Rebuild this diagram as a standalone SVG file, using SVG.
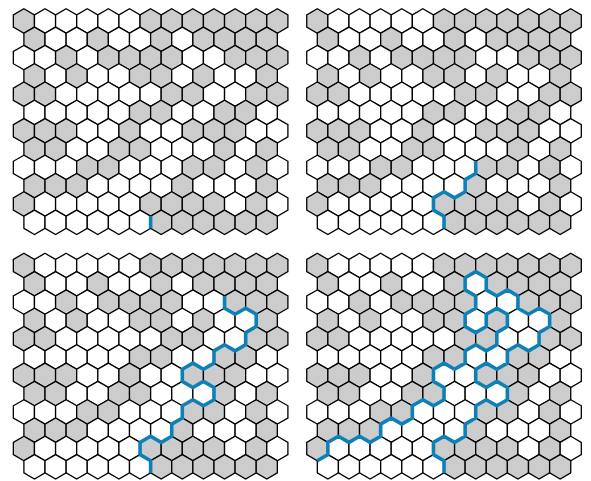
<svg xmlns="http://www.w3.org/2000/svg" xmlns:xlink="http://www.w3.org/1999/xlink" width="591" height="481" viewBox="0 0 591 481">
<style>
.grid use{fill:#fff;stroke:#000;stroke-width:1.3;stroke-linejoin:miter}
.grid use.g{fill:#cccccc}
.path{fill:none;stroke:#0f80b6;stroke-width:3.6;stroke-linejoin:round;stroke-linecap:butt}
</style>
<defs>
<path id="h" d="M0,-12.2L10.56,-6.1L10.56,6.1L0,12.2L-10.56,6.1L-10.56,-6.1Z"/>
<g id="grid" class="grid">
<use href="#h" x="23.90" y="21" class="g"/><use href="#h" x="45.02" y="21"/><use href="#h" x="66.14" y="21"/><use href="#h" x="87.26" y="21"/><use href="#h" x="108.38" y="21"/><use href="#h" x="129.50" y="21"/><use href="#h" x="150.62" y="21" class="g"/><use href="#h" x="171.74" y="21" class="g"/><use href="#h" x="192.86" y="21" class="g"/><use href="#h" x="213.98" y="21" class="g"/><use href="#h" x="235.10" y="21" class="g"/><use href="#h" x="256.22" y="21" class="g"/><use href="#h" x="277.34" y="21" class="g"/>
<use href="#h" x="34.46" y="39.3" class="g"/><use href="#h" x="55.58" y="39.3"/><use href="#h" x="76.70" y="39.3"/><use href="#h" x="97.82" y="39.3" class="g"/><use href="#h" x="118.94" y="39.3"/><use href="#h" x="140.06" y="39.3"/><use href="#h" x="161.18" y="39.3" class="g"/><use href="#h" x="182.30" y="39.3"/><use href="#h" x="203.42" y="39.3" class="g"/><use href="#h" x="224.54" y="39.3" class="g"/><use href="#h" x="245.66" y="39.3" class="g"/><use href="#h" x="266.78" y="39.3" class="g"/>
<use href="#h" x="23.90" y="57.6"/><use href="#h" x="45.02" y="57.6"/><use href="#h" x="66.14" y="57.6" class="g"/><use href="#h" x="87.26" y="57.6"/><use href="#h" x="108.38" y="57.6" class="g"/><use href="#h" x="129.50" y="57.6" class="g"/><use href="#h" x="150.62" y="57.6" class="g"/><use href="#h" x="171.74" y="57.6" class="g"/><use href="#h" x="192.86" y="57.6"/><use href="#h" x="213.98" y="57.6"/><use href="#h" x="235.10" y="57.6" class="g"/><use href="#h" x="256.22" y="57.6" class="g"/><use href="#h" x="277.34" y="57.6" class="g"/>
<use href="#h" x="34.46" y="75.9" class="g"/><use href="#h" x="55.58" y="75.9"/><use href="#h" x="76.70" y="75.9" class="g"/><use href="#h" x="97.82" y="75.9"/><use href="#h" x="118.94" y="75.9"/><use href="#h" x="140.06" y="75.9" class="g"/><use href="#h" x="161.18" y="75.9" class="g"/><use href="#h" x="182.30" y="75.9"/><use href="#h" x="203.42" y="75.9" class="g"/><use href="#h" x="224.54" y="75.9"/><use href="#h" x="245.66" y="75.9"/><use href="#h" x="266.78" y="75.9" class="g"/>
<use href="#h" x="23.90" y="94.2" class="g"/><use href="#h" x="45.02" y="94.2" class="g"/><use href="#h" x="66.14" y="94.2"/><use href="#h" x="87.26" y="94.2"/><use href="#h" x="108.38" y="94.2"/><use href="#h" x="129.50" y="94.2"/><use href="#h" x="150.62" y="94.2"/><use href="#h" x="171.74" y="94.2" class="g"/><use href="#h" x="192.86" y="94.2" class="g"/><use href="#h" x="213.98" y="94.2"/><use href="#h" x="235.10" y="94.2"/><use href="#h" x="256.22" y="94.2" class="g"/><use href="#h" x="277.34" y="94.2" class="g"/>
<use href="#h" x="34.46" y="112.5"/><use href="#h" x="55.58" y="112.5"/><use href="#h" x="76.70" y="112.5"/><use href="#h" x="97.82" y="112.5"/><use href="#h" x="118.94" y="112.5"/><use href="#h" x="140.06" y="112.5" class="g"/><use href="#h" x="161.18" y="112.5" class="g"/><use href="#h" x="182.30" y="112.5"/><use href="#h" x="203.42" y="112.5"/><use href="#h" x="224.54" y="112.5" class="g"/><use href="#h" x="245.66" y="112.5" class="g"/><use href="#h" x="266.78" y="112.5"/>
<use href="#h" x="23.90" y="130.8" class="g"/><use href="#h" x="45.02" y="130.8" class="g"/><use href="#h" x="66.14" y="130.8" class="g"/><use href="#h" x="87.26" y="130.8"/><use href="#h" x="108.38" y="130.8"/><use href="#h" x="129.50" y="130.8" class="g"/><use href="#h" x="150.62" y="130.8"/><use href="#h" x="171.74" y="130.8"/><use href="#h" x="192.86" y="130.8" class="g"/><use href="#h" x="213.98" y="130.8" class="g"/><use href="#h" x="235.10" y="130.8" class="g"/><use href="#h" x="256.22" y="130.8"/><use href="#h" x="277.34" y="130.8"/>
<use href="#h" x="34.46" y="149.1" class="g"/><use href="#h" x="55.58" y="149.1" class="g"/><use href="#h" x="76.70" y="149.1"/><use href="#h" x="97.82" y="149.1"/><use href="#h" x="118.94" y="149.1" class="g"/><use href="#h" x="140.06" y="149.1" class="g"/><use href="#h" x="161.18" y="149.1"/><use href="#h" x="182.30" y="149.1"/><use href="#h" x="203.42" y="149.1"/><use href="#h" x="224.54" y="149.1" class="g"/><use href="#h" x="245.66" y="149.1"/><use href="#h" x="266.78" y="149.1" class="g"/>
<use href="#h" x="23.90" y="167.4"/><use href="#h" x="45.02" y="167.4"/><use href="#h" x="66.14" y="167.4"/><use href="#h" x="87.26" y="167.4" class="g"/><use href="#h" x="108.38" y="167.4" class="g"/><use href="#h" x="129.50" y="167.4"/><use href="#h" x="150.62" y="167.4"/><use href="#h" x="171.74" y="167.4"/><use href="#h" x="192.86" y="167.4" class="g"/><use href="#h" x="213.98" y="167.4" class="g"/><use href="#h" x="235.10" y="167.4"/><use href="#h" x="256.22" y="167.4" class="g"/><use href="#h" x="277.34" y="167.4"/>
<use href="#h" x="34.46" y="185.7" class="g"/><use href="#h" x="55.58" y="185.7" class="g"/><use href="#h" x="76.70" y="185.7" class="g"/><use href="#h" x="97.82" y="185.7"/><use href="#h" x="118.94" y="185.7"/><use href="#h" x="140.06" y="185.7"/><use href="#h" x="161.18" y="185.7"/><use href="#h" x="182.30" y="185.7" class="g"/><use href="#h" x="203.42" y="185.7"/><use href="#h" x="224.54" y="185.7"/><use href="#h" x="245.66" y="185.7"/><use href="#h" x="266.78" y="185.7" class="g"/>
<use href="#h" x="23.90" y="204" class="g"/><use href="#h" x="45.02" y="204"/><use href="#h" x="66.14" y="204"/><use href="#h" x="87.26" y="204"/><use href="#h" x="108.38" y="204"/><use href="#h" x="129.50" y="204"/><use href="#h" x="150.62" y="204" class="g"/><use href="#h" x="171.74" y="204" class="g"/><use href="#h" x="192.86" y="204" class="g"/><use href="#h" x="213.98" y="204" class="g"/><use href="#h" x="235.10" y="204"/><use href="#h" x="256.22" y="204" class="g"/><use href="#h" x="277.34" y="204"/>
<use href="#h" x="34.46" y="222.3"/><use href="#h" x="55.58" y="222.3"/><use href="#h" x="76.70" y="222.3"/><use href="#h" x="97.82" y="222.3"/><use href="#h" x="118.94" y="222.3"/><use href="#h" x="140.06" y="222.3"/><use href="#h" x="161.18" y="222.3" class="g"/><use href="#h" x="182.30" y="222.3" class="g"/><use href="#h" x="203.42" y="222.3" class="g"/><use href="#h" x="224.54" y="222.3" class="g"/><use href="#h" x="245.66" y="222.3" class="g"/><use href="#h" x="266.78" y="222.3" class="g"/>
</g>
</defs>
<g id="panel1">
<use href="#grid"/>
</g>
<g id="panel2" transform="translate(293.4,0)">
<use href="#grid"/>
</g>
<g id="panel3" transform="translate(0,244.5)">
<use href="#grid"/>
</g>
<g id="panel4" transform="translate(293.4,244.5)">
<use href="#grid"/>
</g>
<g id="connectors" class="path">
<path d="M150.62,228.4V216.2"/>
<path transform="translate(293.4,0)" d="M150.62,228.4V216.2L140.06,210.1V197.9L150.62,191.8L161.18,197.9L171.74,191.8V179.6L182.30,173.5V161.3"/>
<path transform="translate(0,244.5)" d="M150.62,228.4V216.2L140.06,210.1V197.9L150.62,191.8L161.18,197.9L171.74,191.8V179.6L182.30,173.5V161.3L192.86,155.2L203.42,161.3L213.98,155.2V143L203.42,136.9L192.86,143L182.30,136.9V124.7L192.86,118.6L203.42,124.7L213.98,118.6V106.4L224.54,100.3L235.10,106.4L245.66,100.3V88.1L256.22,82V69.8L245.66,63.7L235.10,69.8L224.54,63.7V51.5"/>
<path transform="translate(293.4,244.5)" d="M150.62,228.4V216.2L140.06,210.1V197.9L150.62,191.8L161.18,197.9L171.74,191.8V179.6L182.30,173.5V161.3L192.86,155.2L203.42,161.3L213.98,155.2V143L203.42,136.9L192.86,143L182.30,136.9V124.7L192.86,118.6L203.42,124.7L213.98,118.6V106.4L224.54,100.3L235.10,106.4L245.66,100.3V88.1L256.22,82V69.8L245.66,63.7L235.10,69.8L224.54,63.7V51.5L213.98,45.4L203.42,51.5L192.86,45.4V33.2L182.30,27.1L171.74,33.2V45.4L182.30,51.5V63.7L171.74,69.8V82L182.30,88.1L192.86,82V69.8L203.42,63.7L213.98,69.8V82L203.42,88.1V100.3L192.86,106.4L182.30,100.3L171.74,106.4V118.6L161.18,124.7L150.62,118.6L140.06,124.7V136.9L150.62,143V155.2L140.06,161.3L129.50,155.2L118.94,161.3V173.5L108.38,179.6L97.82,173.5L87.26,179.6V191.8L76.70,197.9L66.14,191.8L55.58,197.9L45.02,191.8L34.46,197.9V210.1L23.90,216.2"/>
</g>
</svg>
